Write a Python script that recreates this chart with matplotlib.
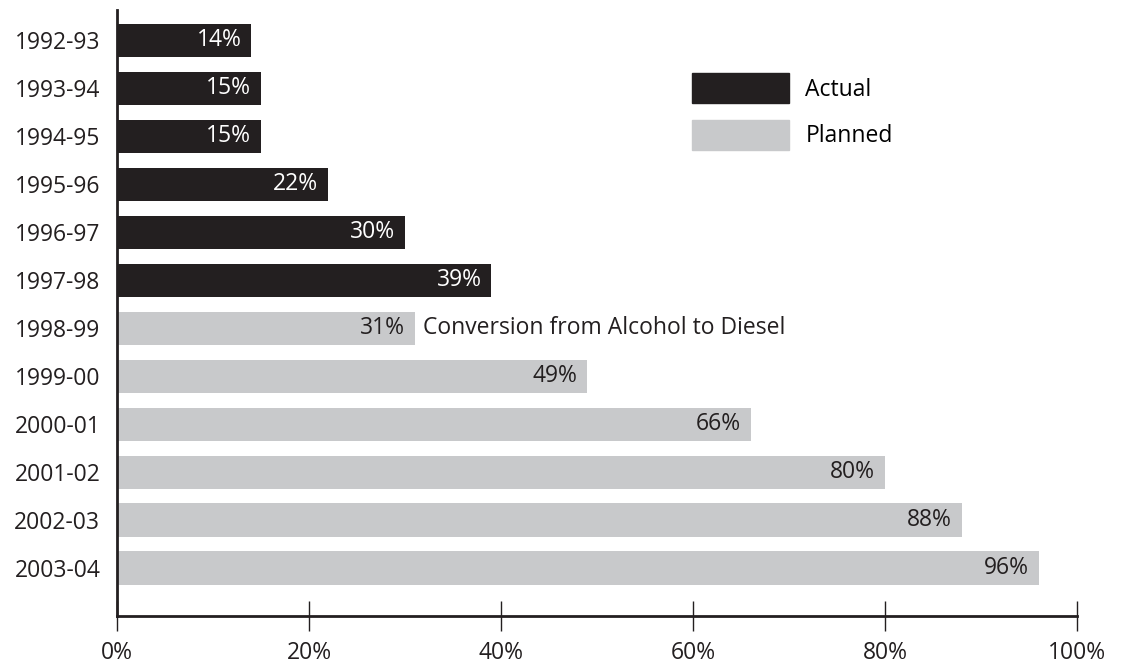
import numpy as np
import matplotlib
matplotlib.use("Agg")
import matplotlib.pyplot as plt

plt.rcParams['font.family'] = ['Open Sans', 'DejaVu Sans']

# 年度與比例資料
years = ["1992-93", "1993-94", "1994-95", "1995-96", "1996-97", "1997-98",
         "1998-99", "1999-00", "2000-01", "2001-02", "2002-03", "2003-04"]
values = [14, 15, 15, 22, 30, 39, 31, 49, 66, 80, 88, 96]
status = ["Actual"] * 6 + ["Planned"] * 6
note_year = "1998-99"
note_text = "Conversion from Alcohol to Diesel"
x_ticks = [0, 20, 40, 60, 80, 100]

dark = "#231f20"
light = "#c8c9cb"
fs = 16.5

fig = plt.figure(figsize=(11.21, 6.69), dpi=100)
ax = fig.add_axes([117 / 1121, 1 - 616 / 669, 960 / 1121, 606 / 669])

pos = np.arange(len(years))
colors = [dark if s == "Actual" else light for s in status]
bars = ax.barh(pos, values, height=0.69, color=colors)

for i, v in enumerate(values):
    txt_color = "white" if status[i] == "Actual" else dark
    ax.annotate(f"{v}%", (v, pos[i]), xytext=(-7, 0), textcoords="offset points",
                ha="right", va="center", fontsize=fs, color=txt_color)
    if years[i] == note_year:
        ax.annotate(note_text, (v, pos[i]), xytext=(6, 0), textcoords="offset points",
                    ha="left", va="center", fontsize=fs, color=dark)

ax.set_yticks(pos)
ax.set_yticklabels(years, fontsize=fs, color=dark)
ax.set_ylim(12, -0.63)
ax.set_xlim(0, 100)
ax.set_xticks(x_ticks)
ax.set_xticklabels([f"{t}%" for t in x_ticks], fontsize=fs, color=dark)
ax.tick_params(axis="y", length=0, pad=12)
ax.tick_params(axis="x", direction="inout", length=22, width=1, color=dark, pad=7)

for side in ["top", "right"]:
    ax.spines[side].set_visible(False)
for side in ["left", "bottom"]:
    ax.spines[side].set_linewidth(2)
    ax.spines[side].set_color(dark)

handles = [plt.Rectangle((0, 0), 1, 1, color=dark), plt.Rectangle((0, 0), 1, 1, color=light)]
ax.legend(handles, ["Actual", "Planned"], loc="upper left",
          bbox_to_anchor=((692 - 117) / 960, 1 - (73 - 10) / 606),
          frameon=False, fontsize=fs, handlelength=4.25, handleheight=1.64,
          handletextpad=0.7, labelspacing=0.72, borderpad=0, borderaxespad=0)

fig.savefig("out.png", dpi=100)
